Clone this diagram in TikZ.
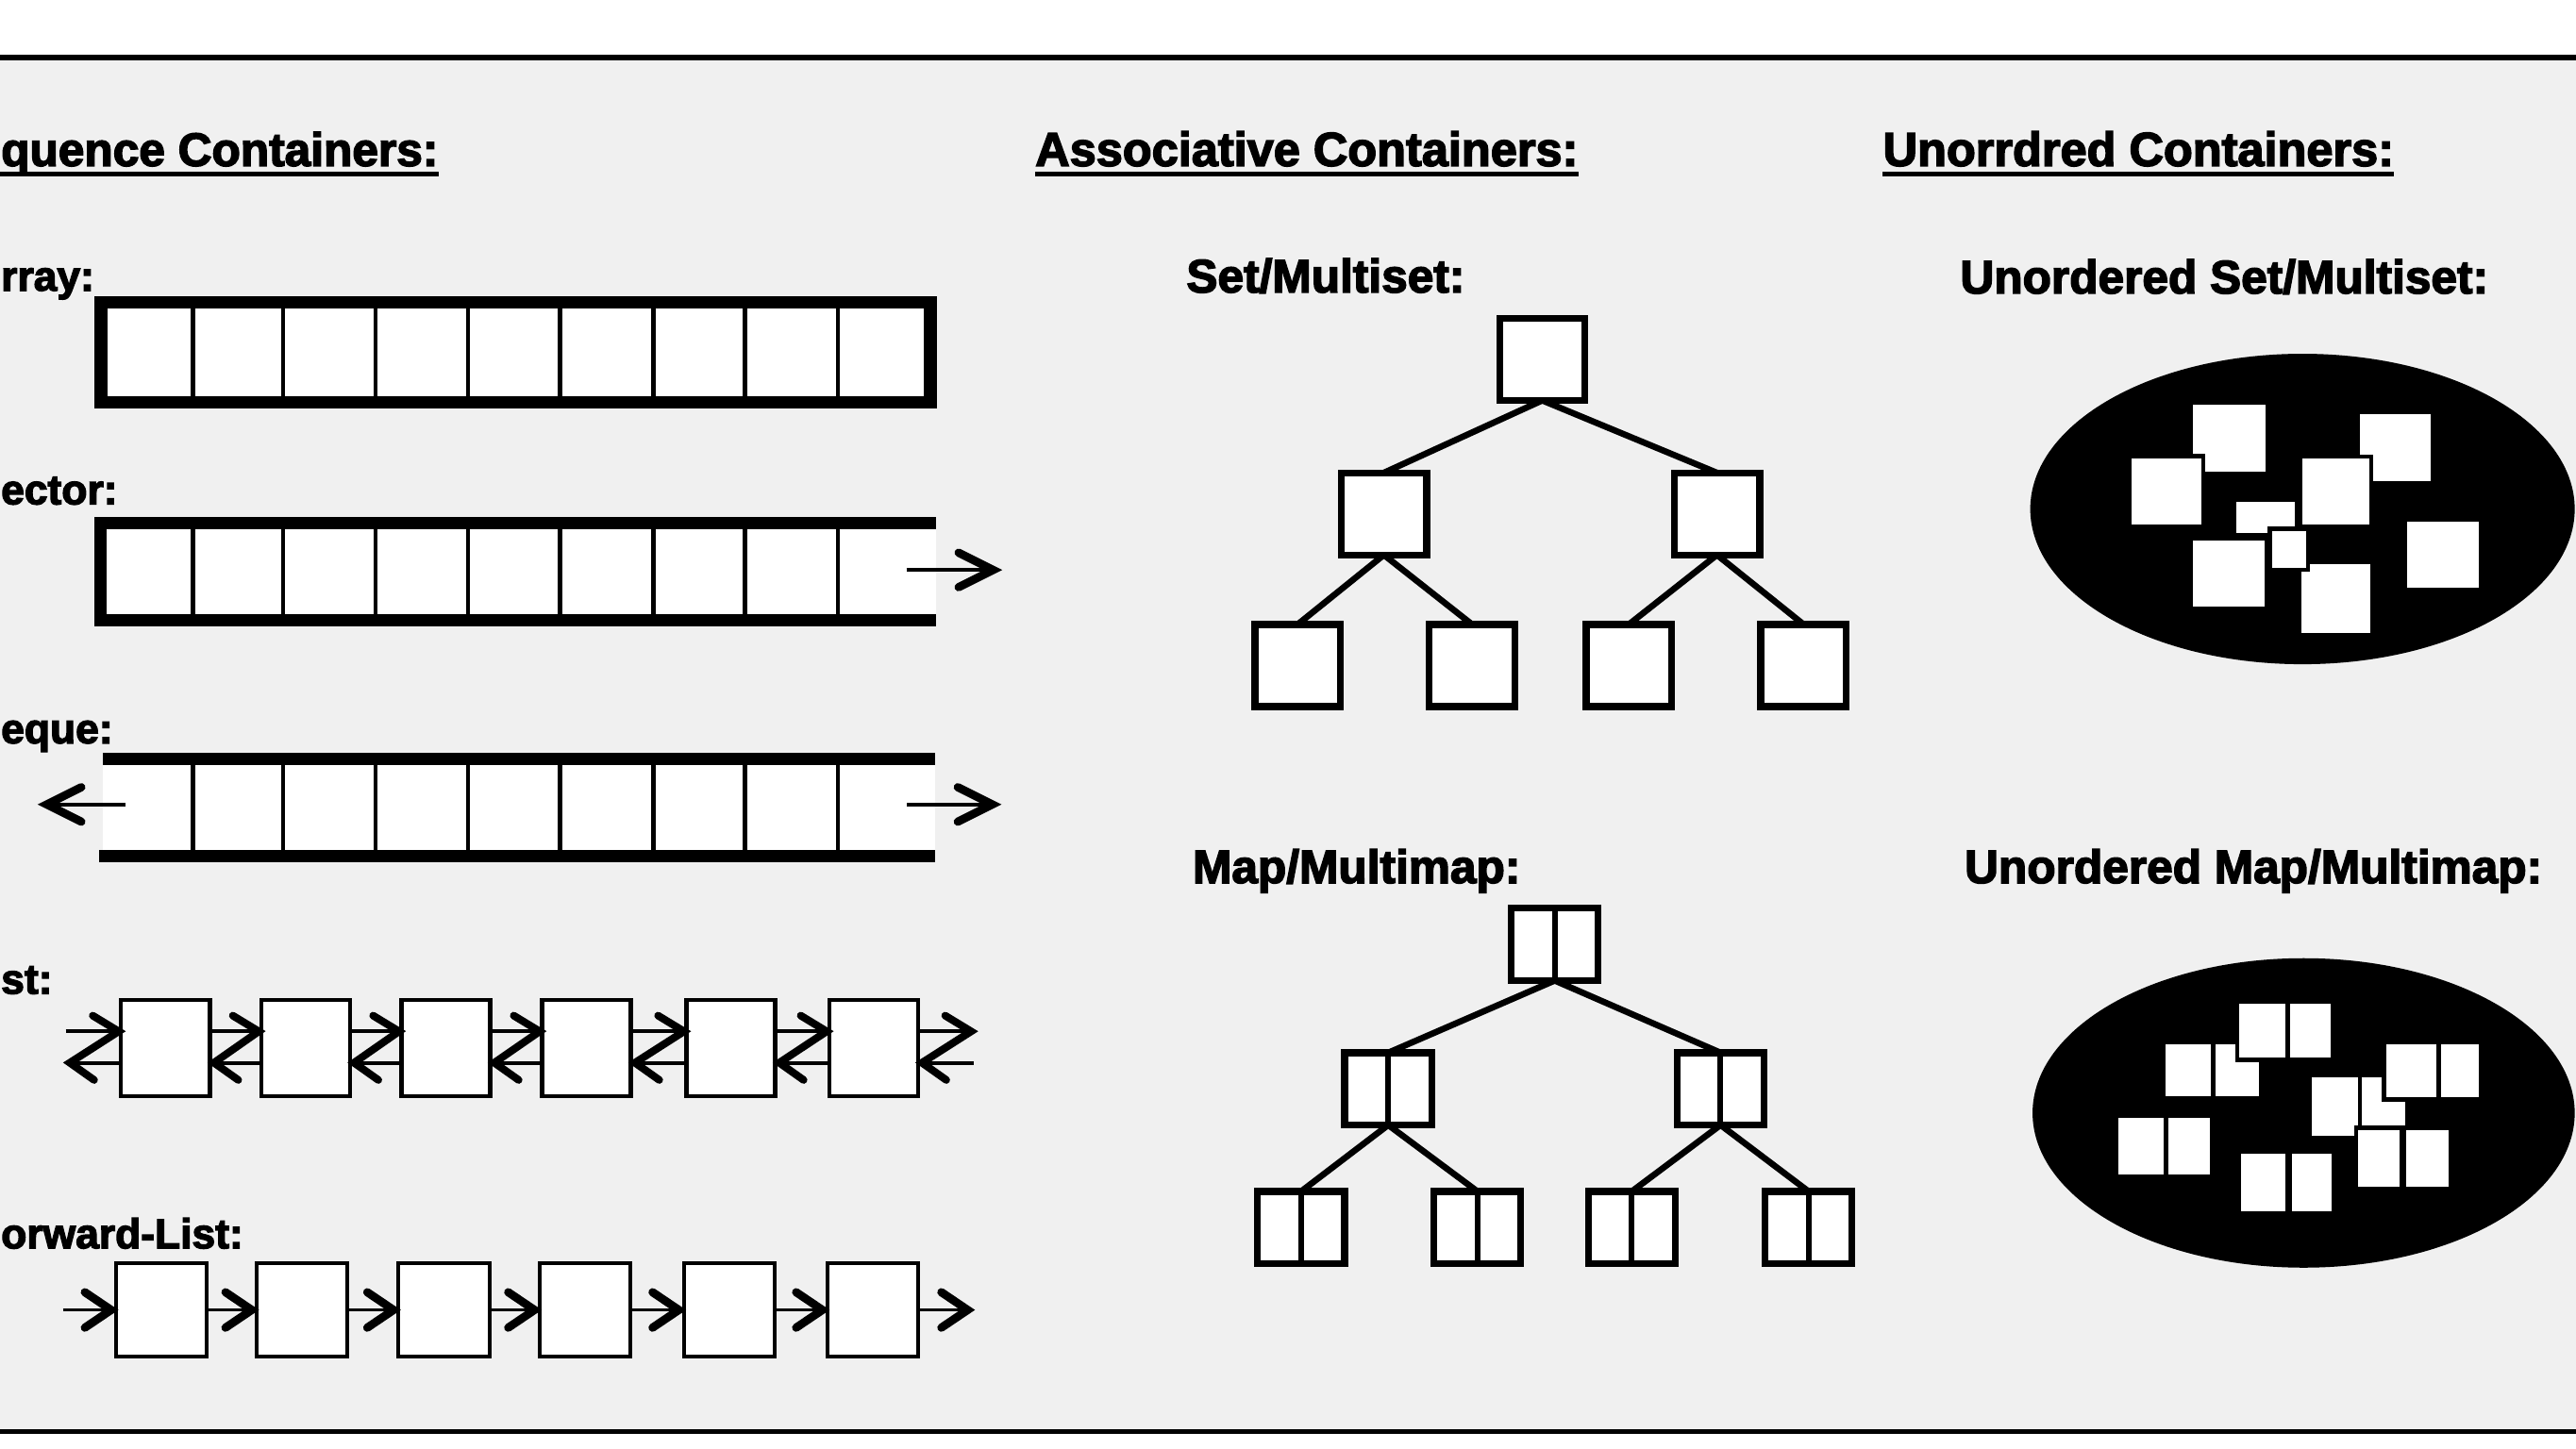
\documentclass[tikz,border=0pt]{standalone}
\usepackage{fontspec}
\setmainfont{Liberation Sans}[BoldFeatures={FakeBold=3}]
\usetikzlibrary{calc}
\newcommand\zlink[2]{%
  \draw[lline] ($(#1)+(0,-10.2)$) -- ($(#2)+(0,-10.2)$);
  \draw[lline] ($(#2)+(0,8.9)$) -- ($(#1)+(0,8.9)$);
  \draw[chev] ($(#2)+(-17.3,-19.8)$) -- ($(#2)+(-1.5,-10.2)$) -- ($(#1)+(2.5,8.9)$) -- ($(#1)+(17.3,19.4)$);}
\newcommand\rchev[1]{\draw[chevh] ($(#1)+(-21,-10.5)$) -- (#1) -- ($(#1)+(-21,10.5)$);}
\newcommand\lchev[1]{\draw[chevh] ($(#1)+(21,-10.5)$) -- (#1) -- ($(#1)+(21,10.5)$);}
\newcommand\fchev[1]{\draw[chevh] ($(#1)+(-19,-10.8)$) -- ($(#1)+(-3,0)$) -- ($(#1)+(-19,10.8)$);}
\newcommand\wsq[4]{\path[wsq] (#1-1.2,#2-1.2) rectangle (#3+1.2,#4+1.2);}
\newcommand\wpair[6]{\wsq{#1}{#5}{#2}{#6}\wsq{#3}{#5}{#4}{#6}}
\begin{document}
\begin{tikzpicture}[x=1pt,y=-1pt,
  hdtext/.style={inner sep=0pt, font=\bfseries\fontsize{29}{31}\selectfont},
  lbtext/.style={inner sep=0pt, anchor=base west, font=\bfseries\fontsize{28.5}{30}\selectfont},
  lbcut/.style={inner sep=0pt, anchor=base west, font=\bfseries\fontsize{25.5}{27}\selectfont},
  uline/.style={line width=3.2pt},
  cellsep/.style={line width=2.6pt},
  thickbar/.style={line width=7.5pt, line join=miter},
  listbox/.style={draw, fill=white, line width=2.4pt, minimum width=54pt, minimum height=58.7pt, inner sep=0pt, outer sep=0pt},
  flbox/.style={draw, fill=white, line width=2.2pt, minimum width=55.3pt, minimum height=57.1pt, inner sep=0pt, outer sep=0pt},
  lline/.style={line width=2.3pt},
  chev/.style={line width=4.6pt, line cap=round, line join=miter},
  chevh/.style={line width=5pt, line cap=round, line join=miter},
  fline/.style={line width=1.9pt},
  setbox/.style={draw, fill=white, line width=4.2pt, minimum width=52pt, minimum height=50pt, inner sep=0pt, outer sep=0pt},
  mapbox/.style={draw, fill=white, line width=4.2pt, minimum width=53pt, minimum height=44pt, inner sep=0pt, outer sep=0pt,
    path picture={\draw[line width=3.5pt] (path picture bounding box.north) -- (path picture bounding box.south);}},
  treeline/.style={line width=3.8pt},
  wsq/.style={fill=white, draw=black, line width=2.5pt}
]
\useasboundingbox (0,0) rectangle (1568,882);
\clip (0,0) rectangle (1568,882);
\fill[white] (0,0) rectangle (1568,882);
\fill[black!6] (0,35) rectangle (1568,872);
\draw[line width=3.5pt] (0,34.9) -- (1568,34.9);
\draw[line width=3pt] (0,871.8) -- (1568,871.8);

% ---------- headings ----------
\node[hdtext, anchor=base west, font=\bfseries\fontsize{28.5}{30}\selectfont] (h1) at (0.5,101) {quence Containers:};
\draw[uline] (0,106) -- ($(h1.base east)+(0,5)$);
\node[hdtext, anchor=base west] (h2) at (630,101) {Associative Containers:};
\draw[uline] ($(h2.base west)+(0,5)$) -- ($(h2.base east)+(0,5)$);
\node[hdtext, anchor=base west] (h3) at (1146,101) {Unorrdred Containers:};
\draw[uline] ($(h3.base west)+(0,5)$) -- ($(h3.base east)+(0,5)$);

% ---------- labels ----------
\node[lbcut] (la) at (0.5,177) {rray:};
\node[lbcut] (lv) at (0.5,307) {ector:};
\node[lbcut] (ld) at (0.5,452.5) {eque:};
\node[lbcut] (ll) at (0.5,605) {st:};
\node[lbcut] (lf) at (0.5,760) {orward-List:};
\node[lbtext] (lss) at (722,178) {Set/Multiset:};
\node[lbtext] (lmm) at (725.8,537.6) {Map/Multimap:};
\node[lbtext] (lus) at (1193,178.6) {Unordered Set/Multiset:};
\node[lbtext] (lum) at (1195.7,537.6) {Unordered Map/Multimap:};

% ---------- array ----------
\fill[white] (61.5,184) rectangle (566.2,244.9);
\foreach \x in {117.6,172.4,228.5,285,341,397.7,453.3,510.1}
  \draw[cellsep] (\x,184) -- (\x,244.9);
\draw[line width=7.7pt] (61.5,184) rectangle (566.2,244.9);

% ---------- vector ----------
\fill[white] (61,318.7) rectangle (569.5,377.9);
\foreach \x in {117.6,172.4,228.5,285,341,397.7,453.3,510.1}
  \draw[cellsep] (\x,318.7) -- (\x,377.9);
\draw[thickbar] (569.5,318.7) -- (61,318.7) -- (61,377.9) -- (569.5,377.9);
\coordinate (va1) at (551.8,347);
\coordinate (va2) at (604.5,347);
\draw[lline] (va1) -- (va2);
\rchev{va2}

% ---------- deque ----------
\fill[white] (62.5,461.9) rectangle (569,521);
\foreach \x in {117.6,172.4,228.5,285,341,397.7,453.3,510.1}
  \draw[cellsep] (\x,461.9) -- (\x,521);
\draw[thickbar] (62.5,461.9) -- (569,461.9);
\draw[thickbar] (60.4,521) -- (569,521);
\coordinate (da1) at (76.5,489.8);
\coordinate (da2) at (28.5,489.8);
\coordinate (da3) at (552,489.8);
\coordinate (da4) at (604,489.8);
\draw[lline] (da1) -- (da2);
\lchev{da2}
\draw[lline] (da3) -- (da4);
\rchev{da4}

% ---------- list ----------
\foreach \n/\x in {1/100.75,2/186,3/271.4,4/357,5/444.85,6/531.7}
  \node[listbox] (l\n) at (\x,638.15) {};
\coordinate (lst) at (40,638.15);
\coordinate (lend) at (592.6,638.15);
\zlink{lst}{l1.west}
\zlink{l1.east}{l2.west}
\zlink{l2.east}{l3.west}
\zlink{l3.east}{l4.west}
\zlink{l4.east}{l5.west}
\zlink{l5.east}{l6.west}
\zlink{l6.east}{lend}

% ---------- forward list ----------
\foreach \n/\x in {1/98.3,2/183.9,3/270.2,4/356,5/443.85,6/531.25}
  \node[flbox] (f\n) at (\x,797.55) {};
\coordinate (fst) at (38.3,797.55);
\coordinate (fend) at (592,797.55);
\draw[fline] (fst) -- (f1.west);   \fchev{f1.west}
\draw[fline] (f1.east) -- (f2.west); \fchev{f2.west}
\draw[fline] (f2.east) -- (f3.west); \fchev{f3.west}
\draw[fline] (f3.east) -- (f4.west); \fchev{f4.west}
\draw[fline] (f4.east) -- (f5.west); \fchev{f5.west}
\draw[fline] (f5.east) -- (f6.west); \fchev{f6.west}
\draw[fline] (f6.east) -- ($(fend)+(-3,0)$); \fchev{fend}

% ---------- set tree ----------
\node[setbox] (s0) at (938.75,218.8) {};
\node[setbox] (s1) at (842.35,312.85) {};
\node[setbox] (s2) at (1045.1,312.85) {};
\node[setbox] (s3) at (789.9,405.15) {};
\node[setbox] (s4) at (896,405.15) {};
\node[setbox] (s5) at (991.5,405.15) {};
\node[setbox] (s6) at (1097.8,405.15) {};
\draw[treeline] (s0.south) -- (s1.north);
\draw[treeline] (s0.south) -- (s2.north);
\draw[treeline] (s1.south) -- (s3.north);
\draw[treeline] (s1.south) -- (s4.north);
\draw[treeline] (s2.south) -- (s5.north);
\draw[treeline] (s2.south) -- (s6.north);

% ---------- map tree ----------
\node[mapbox] (m0) at (946.35,575) {};
\node[mapbox] (m1) at (845,662.95) {};
\node[mapbox] (m2) at (1047.3,662.95) {};
\node[mapbox] (m3) at (792,747.35) {};
\node[mapbox] (m4) at (899.25,747.35) {};
\node[mapbox] (m5) at (993.3,747.35) {};
\node[mapbox] (m6) at (1100.8,747.35) {};
\draw[treeline] (m0.south) -- (m1.north);
\draw[treeline] (m0.south) -- (m2.north);
\draw[treeline] (m1.south) -- (m3.north);
\draw[treeline] (m1.south) -- (m4.north);
\draw[treeline] (m2.south) -- (m5.north);
\draw[treeline] (m2.south) -- (m6.north);

% ---------- unordered set ----------
\fill[black] (1401.5,309.9) ellipse [x radius=165.7, y radius=94.5];
\wsq{1334.9}{246.2}{1379.1}{287.2}
\wsq{1297.2}{279}{1340}{319.4}
\wsq{1436.6}{252}{1479.4}{293}
\wsq{1401.5}{279.2}{1442.3}{319.4}
\wsq{1464.9}{317.4}{1508.6}{358.1}
\wsq{1400.9}{343.5}{1442.8}{385.4}
\wsq{1361.4}{305.6}{1396.6}{324.7}
\wsq{1382.9}{323.2}{1403.7}{345.8}
\wsq{1334.9}{328.8}{1378.5}{369.3}

% ---------- unordered map ----------
\fill[black] (1402.2,677.6) ellipse [x radius=165, y radius=94.2];
\wpair{1318}{1345.6}{1348.6}{1375.2}{635.8}{667.7}
\wpair{1362.9}{1390.9}{1393.7}{1418.6}{610.9}{644}
\wpair{1289.2}{1317.2}{1320}{1345.2}{680.8}{715.3}
\wpair{1407.2}{1435.2}{1437.7}{1464.3}{656}{691.6}
\wpair{1452.3}{1482.9}{1485.8}{1508.6}{635.8}{668.2}
\wpair{1435.2}{1460.9}{1464.3}{1490.6}{687.8}{722.6}
\wpair{1364.3}{1391.4}{1394.9}{1419.5}{702.4}{737.7}
\end{tikzpicture}
\end{document}
